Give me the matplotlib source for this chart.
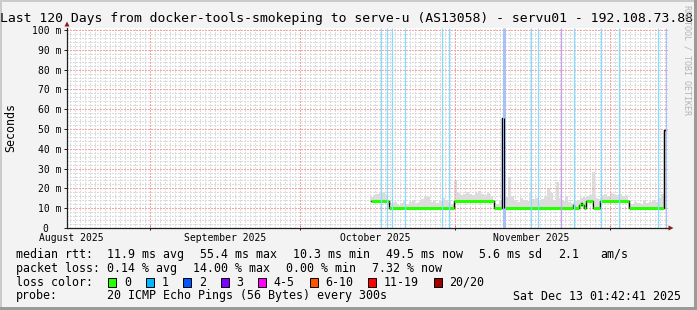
import numpy as np
import matplotlib
matplotlib.use("Agg")
import matplotlib.pyplot as plt
from matplotlib.patches import Rectangle, Polygon
from matplotlib.transforms import Affine2D

# --- Data (x in days since graph start, y in milliseconds) ---
TITLE = "Last 120 Days from docker-tools-smokeping to serve-u (AS13058) - servu01 - 192.108.73.88"

month_labels = ["August 2025", "September 2025", "October 2025", "November 2025"]
month_label_days = [0.8, 31.6, 61.6, 92.8]
month_line_days = [16.6, 46.6, 77.6, 108.6]

y_ticks = [0, 10, 20, 30, 40, 50, 60, 70, 80, 90, 100]
y_labels = ["0  ", "10 m", "20 m", "30 m", "40 m", "50 m", "60 m", "70 m", "80 m", "90 m", "100 m"]

# median rtt, step-post
median_days = [60.8, 64.4, 77.4, 85.4, 87.05, 87.35, 101.1, 101.4, 102.4, 102.7,
               103.0, 103.3, 103.8, 105.2, 106.6, 112.3, 119.4, 119.7]
median_vals = [13.8, 10.3, 13.8, 10.3, 55.4, 10.3, 11.4, 10.3, 11.6, 12.8,
               11.6, 10.3, 13.5, 10.3, 13.8, 10.3, 49.5, 49.5]

# smoke tops, one value every 0.6 day from day 60.8
smoke_start = 60.8
smoke_step = 0.6
smoke_top = [
    15.5, 16.5, 17.0, 17.5, 18.0, 16.5,
    11.5, 12.5, 13.0, 11.8, 12.5, 13.5, 12.0, 13.0, 14.0, 12.5, 13.0,
    14.5, 16.0, 15.5, 13.0, 14.0, 12.5, 13.5, 15.0, 14.0, 13.0, 12.0,
    24.0, 17.5, 16.5, 17.0, 18.0, 17.0, 16.5, 17.5, 18.5, 17.0, 16.5, 17.5, 16.0,
    13.0, 12.0, 14.0, 13.0, 15.5, 25.0, 16.0, 14.0, 13.0, 15.0, 14.0, 13.5, 18.0,
    14.5, 15.0, 13.0, 14.5, 16.0, 20.0, 17.5, 14.0, 23.0, 15.0, 13.5, 16.0, 13.0,
    12.5, 13.5, 14.0, 15.0, 15.5, 16.0, 16.5, 28.5, 15.0, 14.5,
    16.5, 17.0, 16.0, 17.5, 17.0, 16.5, 17.0, 16.0, 16.5,
    12.5, 12.0, 13.0, 12.5, 12.0, 13.5, 12.5, 13.0, 14.0, 13.0, 15.0, 17.0,
]

# packet-loss events (days) by loss count
loss1_days = [62.7, 64.0, 65.0, 67.5, 74.9, 76.3, 92.7, 94.1, 101.3, 106.8, 110.3, 118.1]
loss2_days = [87.3, 119.7]
loss3_days = [98.7]

loss_labels = ["0", "1", "2", "3", "4-5", "6-10", "11-19", "20/20"]
loss_colors = ["#26ff00", "#00b8ff", "#0059ff", "#7e00ff", "#ff00ff", "#ff5500", "#ff0000", "#a00000"]

rtt_items = ["median rtt:", "11.9 ms avg", "55.4 ms max", "10.3 ms min", "49.5 ms now", "5.6 ms sd", "2.1", "am/s"]
loss_items = ["packet loss:", "0.14 % avg", "14.00 % max", "0.00 % min", "7.32 % now"]
probe_text = "20 ICMP Echo Pings (56 Bytes) every 300s"
stamp_text = "Sat Dec 13 01:42:41 2025"

# --- Figure ---
W, H = 697, 310
plt.rcParams["font.family"] = ["DejaVu Sans Mono"]
fig = plt.figure(figsize=(W / 100, H / 100), dpi=100, facecolor="#f3f3f3")
PX = Affine2D().scale(1 / W, -1 / H).translate(0, 1) + fig.transFigure

# 3d border
for (x, y, w, h, c) in [(0, 0, W, 2, "#cbcbcb"), (0, 0, 2, H, "#cbcbcb"),
                        (0, H - 3, W, 3, "#9a9a9a"), (W - 3, 0, 3, H, "#9a9a9a")]:
    fig.add_artist(Rectangle((x, y), w, h, transform=PX, color=c, lw=0))

ax = fig.add_axes([67 / W, 1 - 228 / H, 601 / W, 200 / H])
ax.set_facecolor("white")
ax.set_xlim(0, 120.2)
ax.set_ylim(0, 101)
for s in ax.spines.values():
    s.set_visible(False)

# grid (crisp 1px dots like rrdtool)
dots = (0, (1.4, 1.4))
ax.vlines(np.arange(0.6, 120.2, 1.0), 0, 101, colors="#dcdcdc", lw=0.72,
          linestyles=dots, zorder=2.5, antialiased=False)
ax.hlines(np.arange(2, 101, 2), 0, 120.2, colors="#dcdcdc", lw=0.72,
          linestyles=dots, zorder=2.5, antialiased=False)
ax.vlines(month_line_days, 0, 101, colors="#f5a5a5", lw=0.72, linestyles=dots,
          zorder=2.6, antialiased=False)
ax.hlines(y_ticks[1:], 0, 120.2, colors="#f5a5a5", lw=0.72, linestyles=dots,
          zorder=2.6, antialiased=False)

# smoke
sx = smoke_start + smoke_step * np.arange(len(smoke_top))
idx = np.searchsorted(median_days, sx, side="right") - 1
base = np.array(median_vals)[idx]
bottom = np.where(base > 20, 10.0, base - 0.3)
ax.bar(sx, np.array(smoke_top) - bottom, bottom=bottom, width=smoke_step,
       color="#dcdcdc", lw=0, zorder=2)

# median line: black steps with green horizontal parts
ax.step(median_days, median_vals, where="post", color="black", lw=1.0, zorder=4)
for i in range(len(median_days) - 1):
    if median_vals[i] < 30:
        ax.hlines(median_vals[i], median_days[i], median_days[i + 1],
                  colors=loss_colors[0], lw=2.2, zorder=4.5, capstyle="butt")

# loss bars
ax.vlines(loss1_days, 0, 101, colors="#86dcff", lw=0.9, zorder=5)
ax.vlines(loss2_days, 0, 101, colors="#a9c2f5", lw=[2.2, 0.9], zorder=5)
ax.vlines(loss3_days, 0, 101, colors="#c9a0f5", lw=0.9, zorder=5)

# rtt spikes stay on top of the loss bars
for i in range(1, len(median_days)):
    if median_vals[i] > 30:
        ax.vlines(median_days[i], median_vals[i - 1], median_vals[i], colors="black", lw=0.8, zorder=5.5)
        if i + 1 < len(median_days) and median_vals[i + 1] < 30:
            ax.vlines(median_days[i + 1], median_vals[i + 1], median_vals[i], colors="black", lw=0.8, zorder=5.5)

# axes lines + arrows
ax.plot([0, 0], [0, 101.2], color="#1f1f1f", lw=0.9, clip_on=False, zorder=6)
ax.plot([0, 120.2], [0, 0], color="#1f1f1f", lw=0.9, clip_on=False, zorder=6)
fig.add_artist(Polygon([(64.5, 26.5), (69.5, 26.5), (67, 21.5)], transform=PX, color="#8b1a1a", lw=0))
fig.add_artist(Polygon([(668.5, 225.5), (668.5, 230.5), (673.5, 228)], transform=PX, color="#8b1a1a", lw=0))

ax.set_yticks(y_ticks, y_labels)
ax.tick_params(axis="y", length=2.2, width=0.72, pad=2.1, labelsize=7.06, color="#1f1f1f")
ax.set_xticks(month_label_days, month_labels)
ax.tick_params(axis="x", which="major", length=0, pad=3.4, labelsize=7.06)
ax.set_xticks(month_line_days, minor=True)
ax.tick_params(axis="x", which="minor", length=2.5, width=0.72, direction="inout", color="#1f1f1f")

# texts
fig.text(346.5, 18.5, TITLE, transform=PX, ha="center", va="center", fontsize=9.42)
fig.text(10.5, 128, "Seconds", transform=PX, ha="center", va="center", fontsize=8.4, rotation=90)
fig.text(687, 60, "RRDTOOL / TOBI OETIKER", transform=PX, ha="center", va="center",
         fontsize=6, rotation=270, color="#b4b4b4")

FS = 8.41
CW = 7.036
for s, x in zip(rtt_items, [16, 107.3, 200, 293.3, 386, 479.3, 558.3, 600]):
    fig.text(x, 254.3, s, transform=PX, va="center", fontsize=FS)
for s, x in zip(loss_items, [16, 107.3, 193.2, 286.1, 372]):
    fig.text(x, 268.3, s, transform=PX, va="center", fontsize=FS)
fig.text(16, 282.3, "loss color:", transform=PX, va="center", fontsize=FS)
cur = 108.3
for lab, col in zip(loss_labels, loss_colors):
    fig.add_artist(Rectangle((cur, 277.5), 8, 9.5, transform=PX, facecolor=col, edgecolor="black", lw=0.7))
    fig.text(cur + 15.6, 282.3, lab, transform=PX, va="center", fontsize=FS)
    cur = cur + 15.6 + len(lab) * CW + 14.8
fig.text(16, 296, "probe:", transform=PX, va="center", fontsize=FS)
fig.text(107.3, 296, probe_text, transform=PX, va="center", fontsize=FS)
fig.text(513.3, 296, stamp_text, transform=PX, va="center", fontsize=FS)

fig.savefig("out.png", dpi=100, facecolor=fig.get_facecolor())
